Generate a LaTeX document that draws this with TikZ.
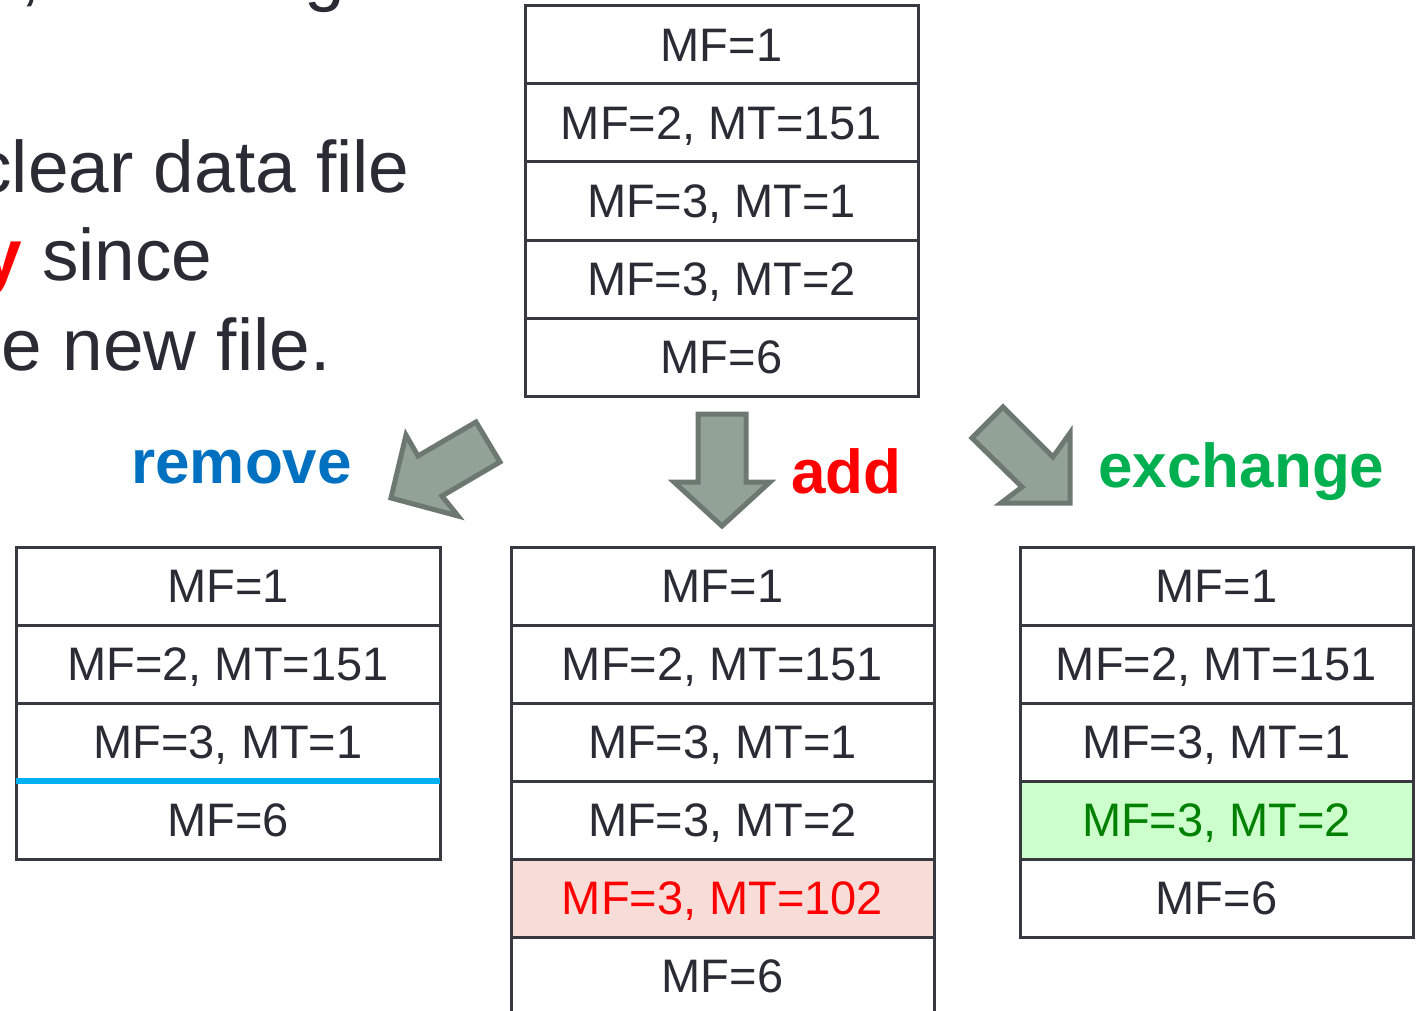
\documentclass[tikz,border=0pt]{standalone}
\usepackage{fontspec}
\setmainfont{Liberation Sans}
\usetikzlibrary{positioning}

\definecolor{ink}{HTML}{2B2B35}
\definecolor{rimgray}{HTML}{383840}
\definecolor{arrowfill}{HTML}{93A296}
\definecolor{arrowrim}{HTML}{6D7870}
\definecolor{rmblue}{HTML}{0070C0}
\definecolor{addred}{HTML}{FF0000}
\definecolor{exgreen}{HTML}{00B050}
\definecolor{cutblue}{HTML}{00B0F0}
\definecolor{newpink}{HTML}{F7DCD8}
\definecolor{swapgreen}{HTML}{CCFFCC}
\definecolor{swaptext}{HTML}{008000}

\begin{document}
\begin{tikzpicture}[x=0.5pt,y=-0.5pt,
	rec/.style={draw=rimgray,line width=1.5pt,rectangle,inner sep=0pt,outer sep=0pt,
		minimum height=39pt,text height=16.8pt,text depth=0pt,text=ink,
		font=\fontsize{23.5}{28}\selectfont},
	narrow/.style={rec,minimum width=196.5pt},
	wide/.style={rec,minimum width=212pt},
	bigtext/.style={inner sep=0pt,text=ink,font=\fontsize{36.5}{44}\selectfont},
	oplabel/.style={inner sep=0pt,anchor=base west,font=\fontsize{31}{36}\selectfont\bfseries},
	blockarrow/.style={fill=arrowfill,draw=arrowrim,line width=2.5pt,line join=miter}]
	\useasboundingbox (0,0) rectangle (1419,1011);
	\clip (0,0) rectangle (1419,1011);
	% running text on the left
	\node[bigtext,anchor=base west] (tail1) at (20,-2) {,};
	\node[bigtext,anchor=base west] (tail2) at (304,-2) {g};
	\node[bigtext,anchor=base east] (line1) at (410,192) {clear data file};
	\node[bigtext,anchor=base east] (line2) at (213,280) {{\color{addred}\bfseries y} since};
	\node[bigtext,anchor=base east] (line3) at (331,370) {e new file.};
	% original file
	\node[narrow,anchor=north] (top1) at (721.5,6) {MF=1};
	\node[narrow,below=0pt of top1] (top2) {MF=2, MT=151};
	\node[narrow,below=0pt of top2] (top3) {MF=3, MT=1};
	\node[narrow,below=0pt of top3] (top4) {MF=3, MT=2};
	\node[narrow,below=0pt of top4] (top5) {MF=6};
	% the three operations
	\draw[blockarrow] (476,422) -- (500,462) -- (442,496) -- (458,516) -- (391,498)
		-- (406,435) -- (418,456) -- cycle;
	\draw[blockarrow] (698,414) -- (746,414) -- (746,482) -- (770,482) -- (722,526)
		-- (674,482) -- (698,482) -- cycle;
	\draw[blockarrow] (1003,407) -- (1053,457) -- (1070,433) -- (1070,503) -- (1001,503)
		-- (1022,487) -- (972,438) -- cycle;
	\node[oplabel,text=rmblue] (rmlab) at (131,483) {remove};
	\node[oplabel,text=addred] (adlab) at (791,493) {add};
	\node[oplabel,text=exgreen] (exlab) at (1098,487) {exchange};
	% removed section
	\node[wide,anchor=north] (rm1) at (228,547) {MF=1};
	\node[wide,below=0pt of rm1] (rm2) {MF=2, MT=151};
	\node[wide,below=0pt of rm2] (rm3) {MF=3, MT=1};
	\node[wide,below=0pt of rm3] (rm4) {MF=6};
	\draw[cutblue,line width=3pt] (rm3.south west) -- (rm3.south east);
	% added section
	\node[wide,minimum width=211.5pt,anchor=north] (ad1) at (722.5,547) {MF=1};
	\node[wide,minimum width=211.5pt,below=0pt of ad1] (ad2) {MF=2, MT=151};
	\node[wide,minimum width=211.5pt,below=0pt of ad2] (ad3) {MF=3, MT=1};
	\node[wide,minimum width=211.5pt,below=0pt of ad3] (ad4) {MF=3, MT=2};
	\node[wide,minimum width=211.5pt,below=0pt of ad4,fill=newpink,text=addred] (ad5) {MF=3, MT=102};
	\node[wide,minimum width=211.5pt,below=0pt of ad5] (ad6) {MF=6};
	% exchanged section
	\node[narrow,anchor=north] (ex1) at (1216.5,547) {MF=1};
	\node[narrow,below=0pt of ex1] (ex2) {MF=2, MT=151};
	\node[narrow,below=0pt of ex2] (ex3) {MF=3, MT=1};
	\node[narrow,below=0pt of ex3,fill=swapgreen,text=swaptext] (ex4) {MF=3, MT=2};
	\node[narrow,below=0pt of ex4] (ex5) {MF=6};
\end{tikzpicture}
\end{document}
